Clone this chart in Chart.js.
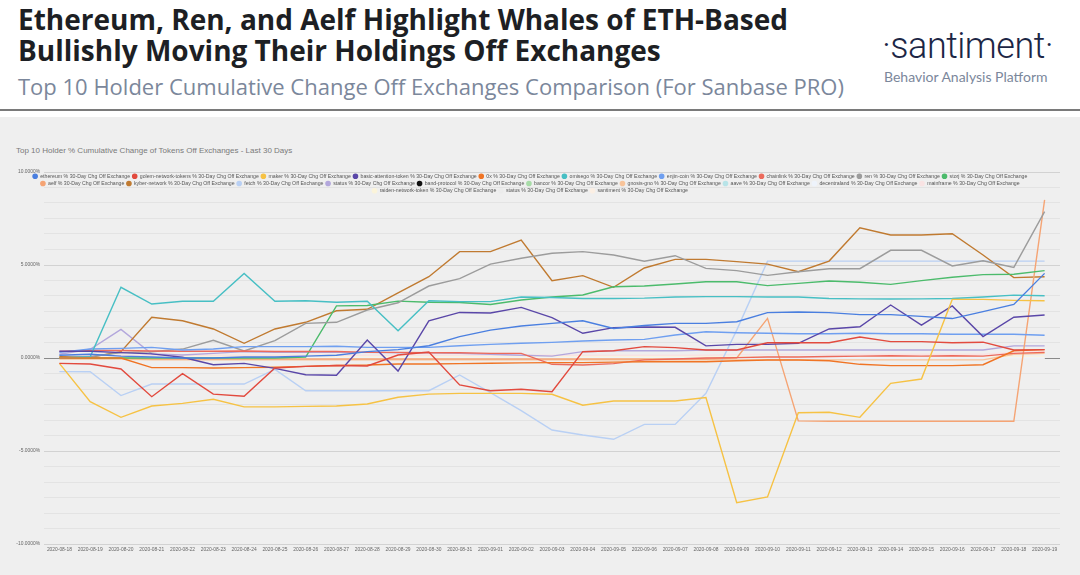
<!DOCTYPE html>
<html>
<head>
<meta charset="utf-8">
<script src="https://cdn.jsdelivr.net/npm/chart.js@4.4.1/dist/chart.umd.min.js"></script>
<style>
  html, body { margin: 0; padding: 0; background: #fff; }
  #page { position: relative; width: 1080px; height: 575px; overflow: hidden; background: #fff; }
  .headline { position: absolute; left: 18px; top: 4px; font-family: "Open Sans", sans-serif; font-weight: 700; font-size: 28px; line-height: 31px; color: #1d1f24; }
  .subline { position: absolute; left: 18px; top: 71px; font-family: "Open Sans", sans-serif; font-size: 22px; color: #7b879b; }
  .logo { position: absolute; left: 882px; top: 25px; font-family: "Roboto", sans-serif; font-weight: 300; font-size: 36px; color: #1c2645; letter-spacing: -0.5px; }
  .tagline { position: absolute; left: 884px; top: 68px; font-family: "Lato", sans-serif; font-size: 14px; color: #7b879b; }
  .rule { position: absolute; left: 0; top: 109px; width: 1080px; height: 2px; background: #7a7a7a; }
  #panel { position: absolute; left: 0; top: 117px; width: 1080px; height: 458px; background: #efefef; }
  .chart-title { position: absolute; left: 16px; top: 29px; font-family: "Liberation Sans", Arial, sans-serif; font-size: 8px; color: #7a7a7a; }
  #wrap { position: absolute; left: 0; top: 0; width: 1080px; height: 458px; }
</style>
</head>
<body>
<div id="page">
  <div class="headline">Ethereum, Ren, and Aelf Highlight Whales of ETH-Based<br>Bullishly Moving Their Holdings Off Exchanges</div>
  <div class="subline">Top 10 Holder Cumulative Change Off Exchanges Comparison (For Sanbase PRO)</div>
  <div class="logo">·santiment·</div>
  <div class="tagline">Behavior Analysis Platform</div>
  <div class="rule"></div>
  <div id="panel">
    <div class="chart-title">Top 10 Holder % Cumulative Change of Tokens Off Exchanges - Last 30 Days</div>
    <div id="wrap"><canvas id="offChart"></canvas></div>
  </div>
</div>
<script>
// ---------------- data ----------------
const dates = [
  "2020-08-18", "2020-08-19", "2020-08-20", "2020-08-21", "2020-08-22", "2020-08-23", "2020-08-24",
  "2020-08-25", "2020-08-26", "2020-08-27", "2020-08-28", "2020-08-29", "2020-08-30", "2020-08-31",
  "2020-09-01", "2020-09-02", "2020-09-03", "2020-09-04", "2020-09-05", "2020-09-06", "2020-09-07",
  "2020-09-08", "2020-09-09", "2020-09-10", "2020-09-11", "2020-09-12", "2020-09-13", "2020-09-14",
  "2020-09-15", "2020-09-16", "2020-09-17", "2020-09-18", "2020-09-19"
];

const yTicks = [10, 5, 0, -5, -10];

const ethereum = [0.15, 0.2, 0.1, 0.05, 0.0, 0.0, 0.05, 0.05, 0.1, 0.15, 0.34, 0.45, 0.66, 1.15, 1.5, 1.72, 1.86, 2.0, 1.59, 1.75, 1.86, 1.86, 1.95, 2.44, 2.47, 2.44, 2.33, 2.33, 2.24, 2.12, 2.49, 2.88, 4.55];
const golem = [-0.29, -0.32, -0.59, -2.08, -0.84, -1.94, -2.06, -0.54, -0.45, -0.4, -0.43, 0.16, 0.32, -1.45, -1.76, -1.68, -1.81, 0.34, 0.39, 0.61, 0.56, 0.43, 0.43, 0.82, 0.82, 0.82, 1.13, 0.88, 0.88, 0.82, 0.85, 0.43, 0.45];
const maker = [-0.29, -2.35, -3.19, -2.58, -2.44, -2.22, -2.63, -2.63, -2.6, -2.58, -2.47, -2.11, -1.94, -1.9, -1.9, -1.9, -1.95, -2.54, -2.31, -2.31, -2.31, -2.13, -7.78, -7.47, -2.94, -2.92, -3.19, -1.36, -1.13, 3.15, 3.15, 3.1, 3.08];
const basicAttention = [0.36, 0.36, 0.29, 0.22, 0.04, -0.36, -0.29, -0.56, -0.9, -0.93, 0.97, -0.7, 2.0, 2.45, 2.42, 2.72, 2.17, 1.33, 1.63, 1.67, 1.65, 0.65, 0.73, 0.73, 0.79, 1.56, 1.68, 2.85, 1.77, 2.8, 1.15, 2.19, 2.31];
const zeroX = [0, 0, 0, -0.52, -0.52, -0.54, -0.52, -0.5, -0.45, -0.4, -0.38, -0.32, -0.32, -0.3, -0.28, -0.26, -0.25, -0.25, -0.22, -0.2, -0.2, -0.2, -0.15, -0.11, -0.11, -0.15, -0.34, -0.41, -0.41, -0.41, -0.36, 0.39, 0.45];
const omisego = [0, 0.07, 3.8, 2.9, 3.05, 3.05, 4.55, 3.05, 3.08, 3.0, 3.05, 1.47, 3.08, 3.03, 3.03, 3.28, 3.25, 3.2, 3.2, 3.22, 3.28, 3.3, 3.3, 3.28, 3.28, 3.2, 3.18, 3.17, 3.18, 3.2, 3.28, 3.38, 3.35];
const enjin = [0.3, 0.48, 0.52, 0.57, 0.43, 0.48, 0.61, 0.61, 0.61, 0.63, 0.57, 0.57, 0.57, 0.66, 0.73, 0.79, 0.84, 0.91, 0.97, 1.0, 1.24, 1.41, 1.36, 1.33, 1.3, 1.3, 1.33, 1.3, 1.3, 1.28, 1.28, 1.28, 1.22];
const chainlink = [0.35, 0.4, 0.4, 0.38, 0.36, 0.36, 0.38, 0.35, 0.35, 0.35, 0.3, 0.3, 0.28, 0.28, 0.25, 0.25, -0.34, -0.38, -0.3, -0.1, -0.05, 0.0, 0.02, 0.05, 0.05, 0.08, 0.1, 0.12, 0.1, 0.12, 0.1, 0.25, 0.3];
const ren = [0, 0.07, 0.29, 0.34, 0.48, 0.95, 0.38, 0.93, 1.86, 1.92, 2.58, 2.97, 3.87, 4.27, 5.05, 5.36, 5.63, 5.72, 5.54, 5.2, 5.5, 4.82, 4.7, 4.44, 4.64, 4.8, 4.8, 5.79, 5.79, 4.95, 5.23, 4.87, 7.87];
const storj = [0, 0, 0, 0, 0, 0, 0, 0, 0.05, 2.8, 2.82, 3.06, 3.0, 2.98, 2.88, 3.12, 3.28, 3.39, 3.83, 3.87, 3.98, 4.1, 4.1, 3.89, 4.01, 4.14, 4.07, 3.96, 4.16, 4.34, 4.48, 4.5, 4.7];
const aelf = [0, 0, 0, -0.05, -0.05, -0.05, -0.05, -0.05, -0.05, -0.05, -0.05, -0.05, -0.05, -0.05, -0.05, -0.05, -0.05, -0.05, -0.05, -0.05, -0.05, -0.05, 0, 2.13, -3.38, -3.4, -3.4, -3.4, -3.4, -3.4, -3.4, -3.4, 8.5];
const kyber = [0.07, 0.04, 0.34, 2.19, 2.0, 1.56, 0.79, 1.56, 1.92, 2.54, 2.62, 3.5, 4.37, 5.72, 5.72, 6.34, 4.16, 4.43, 3.8, 4.84, 5.3, 5.3, 5.18, 5.05, 4.64, 5.21, 7.0, 6.61, 6.61, 6.68, 5.54, 4.32, 4.37];
const fetchAi = [-0.73, -0.74, -2.02, -1.4, -1.4, -1.4, -1.4, -0.61, -1.76, -1.76, -1.76, -1.76, -1.76, -0.91, -1.86, -2.83, -3.87, -4.14, -4.37, -3.57, -3.57, -1.9, 1.5, 5.21, 5.21, 5.21, 5.21, 5.21, 5.21, 5.21, 5.21, 5.21, 5.21];
const status = [0.2, 0.47, 1.54, 0.22, 0.16, 0.25, 0.34, 0.3, 0.3, 0.3, 0.3, 0.28, 0.28, 0.25, 0.2, 0.15, 0.1, 0.34, 0.39, 0.39, 0.39, 0.43, 0.43, 0.43, 0.43, 0.43, 0.43, 0.43, 0.43, 0.43, 0.43, 0.65, 0.65];
const bandProtocol = [];
const bancor = [];
const gnosis = [-0.05, -0.05, -0.05, -0.1, -0.1, -0.1, -0.1, -0.1, -0.1, -0.1, -0.1, -0.1, -0.1, -0.1, -0.1, -0.1, -0.1, -0.1, -0.1, -0.1, -0.1, -0.1, -0.1, -0.1, -0.1, -0.1, -0.1, -0.1, -0.1, -0.1, -0.1, 0.2, 0.25];
const aave = [];
const decentraland = [0, 0, 0, 0, 0, 0, 0, 0, 0, 0, 0, 0, 0, 0, 0, 0, 0, 0, 0, 0, 0, 0, 0, 0, 0, 0, 0, 0, 0, 0, 0, 0, 0];
const mainframe = [0.1, 0.12, 0.15, 0.15, 0.15, 0.15, 0.15, 0.15, 0.15, 0.15, 0.15, 0.15, 0.15, 0.15, 0.15, 0.15, 0.15, 0.15, 0.15, 0.15, 0.15, 0.15, 0.18, 0.2, 0.2, 0.2, 0.2, 0.2, 0.2, 0.2, 0.2, 0.3, 0.35];
const raiden = [0.05, 0.05, 0.05, 0.05, 0.05, 0.05, 0.05, 0.05, 0.05, 0.05, 0.05, 0.05, 0.05, 0.05, 0.05, 0.05, 0.05, 0.05, 0.05, 0.05, 0.05, 0.05, 0.05, 0.05, 0.05, 0.05, 0.05, 0.05, 0.05, 0.05, 0.05, 0.05, 0.05];
const status2 = [0, 0, 0, 0, 0, 0, 0, 0, 0, 0, 0, 0, 0, 0, 0, 0, 0, 0, 0, 0, 0, 0, 0, 0, 0, 0, 0, 0, 0, 0, 0, 0, 0];
const santiment = [0, 0, 0, 0, 0, 0, 0, 0, 0, 0, 0, 0, 0, 0, 0, 0, 0, 0, 0, 0, 0, 0, 0, 0, 0, 0, 0, 0, 0, 0, 0, 0, 0];

const tokenNames = [
  "ethereum", "golem-network-tokens", "maker", "basic-attention-token", "0x",
  "omisego", "enjin-coin", "chainlink", "ren", "storj",
  "aelf", "kyber-network", "fetch", "status", "band-protocol",
  "bancor", "gnosis-gno", "aave", "decentraland", "mainframe",
  "raiden-network-token", "status", "santiment"
];
const tokenValues = [
  ethereum, golem, maker, basicAttention, zeroX,
  omisego, enjin, chainlink, ren, storj,
  aelf, kyber, fetchAi, status, bandProtocol,
  bancor, gnosis, aave, decentraland, mainframe,
  raiden, status2, santiment
];
const tokenColors = [
  "#4a7fe0", "#e24a3e", "#f6c244", "#5a47a8", "#f07424",
  "#47bfc4", "#6f9ff0", "#ec6a5c", "#9c9c9c", "#4cbb6c",
  "#f5a474", "#c07a30", "#b9d0f4", "#b3a7dc", "#111111",
  "#a8dca8", "#f8c49a", "#b8e4e8", "#eef3fb", "#f9e3e3",
  "#fbf4da", "#ececec", "#fbefe4"
];

// ---------------- chart ----------------
const LEGEND_FONT = 5.2;
const LEGEND_PAD = 2.1;
const legendHeight = 3 * (LEGEND_FONT + LEGEND_PAD) + 10;

// keep legend lying over the top of the plot, as in the original
const legendOverlay = {
  id: 'legendOverlay',
  afterLayout(chart) {
    const lg = chart.legend;
    if (!lg) return;
    const h = lg.height;
    lg.top = chart.chartArea.top - 0.5;
    lg.bottom = lg.top + h;
  }
};

const ctx = document.getElementById('offChart');

new Chart(ctx, {
  type: 'line',
  data: {
    labels: dates,
    datasets: tokenNames.map((name, i) => ({
      label: name + ' % 30-Day Chg Off Exchange',
      data: tokenValues[i],
      borderColor: tokenColors[i],
      backgroundColor: tokenColors[i],
      borderWidth: 1.4,
      pointRadius: 0,
      pointHoverRadius: 0,
      pointStyle: 'circle',
      fill: false,
      tension: 0
    }))
  },
  options: {
    responsive: true,
    maintainAspectRatio: false,
    animation: false,
    layout: {
      padding: { top: 55 - legendHeight, left: 0, right: 20, bottom: 13 }
    },
    plugins: {
      legend: {
        position: 'top',
        labels: {
          usePointStyle: true,
          boxWidth: 5,
          boxHeight: 3,
          padding: LEGEND_PAD,
          color: '#555',
          font: { family: '"Liberation Sans", Arial, sans-serif', size: LEGEND_FONT }
        }
      },
      tooltip: { enabled: false },
      title: { display: false }
    },
    scales: {
      x: {
        type: 'category',
        offset: true,
        grid: { display: false, drawTicks: false },
        border: { display: false },
        ticks: {
          autoSkip: false,
          maxRotation: 0,
          minRotation: 0,
          padding: 3,
          color: '#666',
          font: { family: '"Liberation Sans", Arial, sans-serif', size: 4.9 }
        },
        afterFit(scale) { scale.height = 18; }
      },
      y: {
        min: -10,
        max: 10,
        border: { display: false },
        grid: {
          drawTicks: false,
          lineWidth: 1,
          color(c) {
            const v = c.tick ? c.tick.value : 1;
            if (Math.abs(v) < 1e-6) return '#8a8a8a';
            if (yTicks.some(t => Math.abs(t - v) < 1e-6)) return '#d2d2d2';
            return '#e3e3e3';
          }
        },
        ticks: {
          count: 25,
          padding: 4,
          color: '#666',
          font: { family: '"Liberation Sans", Arial, sans-serif', size: 4.9 },
          callback(v) {
            const hit = yTicks.find(t => Math.abs(t - v) < 1e-6);
            return hit === undefined ? '' : hit.toFixed(4) + '%';
          }
        },
        afterFit(scale) { scale.width = 44; }
      }
    }
  },
  plugins: [legendOverlay]
});
</script>
</body>
</html>
